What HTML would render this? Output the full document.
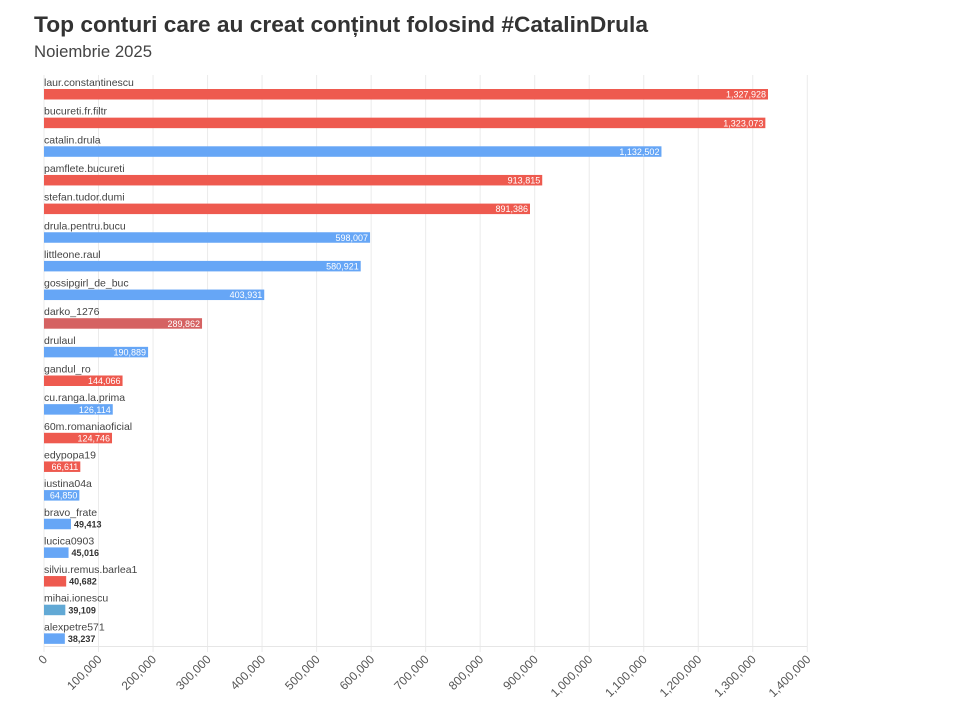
<!DOCTYPE html>
<html><head><meta charset="utf-8"><style>
body{margin:0;background:#fff;font-family:"Liberation Sans",sans-serif;}
</style></head><body>
<svg width="970" height="711" xmlns="http://www.w3.org/2000/svg" font-family="Liberation Sans, sans-serif">
<text x="34" y="32" font-size="22" font-weight="bold" fill="#333" textLength="614" lengthAdjust="spacingAndGlyphs">Top conturi care au creat conținut folosind #CatalinDrula</text>
<text x="34" y="57" font-size="16.5" fill="#444" textLength="118" lengthAdjust="spacingAndGlyphs">Noiembrie 2025</text>
<g id="grid" stroke="#ebebeb" stroke-width="1"></g>
<line x1="44" y1="646.5" x2="807" y2="646.5" stroke="#e6e6e6"/>
<g id="bars"></g>
<g id="ticks" font-size="12" fill="#555"></g>
</svg>
<script>
const ns="http://www.w3.org/2000/svg";
const d=[["laur.constantinescu",1327928,"#ee5a4f"],["bucureti.fr.filtr",1323073,"#ee5a4f"],["catalin.drula",1132502,"#66a6f6"],["pamflete.bucureti",913815,"#ee5a4f"],["stefan.tudor.dumi",891386,"#ee5a4f"],["drula.pentru.bucu",598007,"#66a6f6"],["littleone.raul",580921,"#66a6f6"],["gossipgirl_de_buc",403931,"#66a6f6"],["darko_1276",289862,"#d56262"],["drulaul",190889,"#66a6f6"],["gandul_ro",144066,"#ee5a4f"],["cu.ranga.la.prima",126114,"#66a6f6"],["60m.romaniaoficial",124746,"#ee5a4f"],["edypopa19",66611,"#ee5a4f"],["iustina04a",64850,"#66a6f6"],["bravo_frate",49413,"#66a6f6"],["lucica0903",45016,"#66a6f6"],["silviu.remus.barlea1",40682,"#ee5a4f"],["mihai.ionescu",39109,"#62a9d5"],["alexpetre571",38237,"#66a6f6"]];
const X0=44,S=(807.3-44)/1400000;
function el(t,a,p,txt){const e=document.createElementNS(ns,t);for(const k in a)e.setAttribute(k,a[k]);if(txt!=null)e.textContent=txt;p.appendChild(e);return e;}
const g=document.getElementById("grid"),b=document.getElementById("bars"),tk=document.getElementById("ticks");
for(let i=0;i<=14;i++){const x=X0+i*100000*S;el("line",{x1:x,y1:75,x2:x,y2:652},g);
const lab=i==0?"0":(i*100000).toLocaleString("en-US");
el("text",{x:x+4,y:660,"text-anchor":"end",transform:`rotate(-45 ${x+4} 660)`},tk,lab);}
d.forEach((r,i)=>{const y=89+i*28.65,w=r[1]*S;
el("text",{x:44,y:y-3,"font-size":"10.5",fill:"#444"},b,r[0]);
el("rect",{x:44,y:y,width:w,height:10.5,fill:r[2]},b);
const v=r[1].toLocaleString("en-US");
if(r[1]>60000)el("text",{x:44+w-2,y:y+8.6,"font-size":"9",fill:"#fff","text-anchor":"end"},b,v);
else el("text",{x:44+w+3,y:y+8.6,"font-size":"9","font-weight":"bold",fill:"#333"},b,v);});
</script>
</body></html>
